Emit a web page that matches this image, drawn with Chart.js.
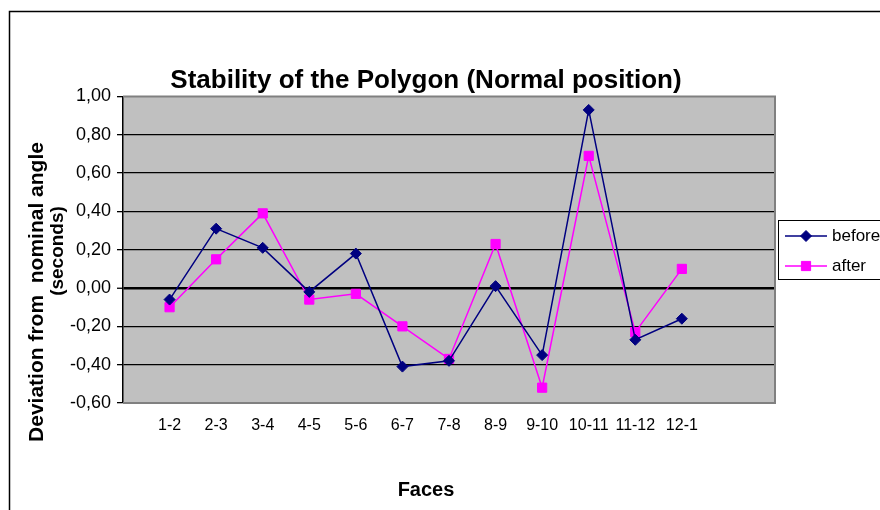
<!DOCTYPE html>
<html><head><meta charset="utf-8">
<script src="https://cdn.jsdelivr.net/npm/chart.js@4/dist/chart.umd.min.js"></script>
<style>html,body{margin:0;padding:0;background:#fff;} canvas{display:block;}</style>
</head><body>
<canvas id="c" width="880" height="510"></canvas>
<script>
const chartTitle = 'Stability of the Polygon (Normal position)';
const xTitle = 'Faces';
const yTitleLines = ['Deviation from  nominal angle', '(seconds)'];
const categories = ['1-2','2-3','3-4','4-5','5-6','6-7','7-8','8-9','9-10','10-11','11-12','12-1'];
const seriesNames = ['before', 'after'];
const beforeValues = [-0.06, 0.31, 0.21, -0.02, 0.18, -0.41, -0.38, 0.01, -0.35, 0.93, -0.27, -0.16];
const afterValues  = [-0.10, 0.15, 0.39, -0.06, -0.03, -0.20, -0.37, 0.23, -0.52, 0.69, -0.23, 0.10];
const yTickValues = [-0.6, -0.4, -0.2, 0, 0.2, 0.4, 0.6, 0.8, 1.0];

const FONT = '"Liberation Sans", Arial, sans-serif';
const toPoints = vals => vals.map((v, i) => ({x: i + 1, y: v}));
const fmt = v => (Math.abs(v) < 1e-9 ? 0 : v).toFixed(2).replace('.', ',');

const decor = {
  id: 'decor',
  beforeDraw(chart) {
    const {ctx, chartArea: a} = chart;
    ctx.save();
    ctx.fillStyle = '#fff';
    ctx.fillRect(0, 0, chart.width, chart.height);
    ctx.strokeStyle = '#000'; ctx.lineWidth = 1.5;
    ctx.strokeRect(9.5, 11.5, 900, 600);
    ctx.fillStyle = '#C0C0C0';
    ctx.fillRect(a.left, a.top, a.right - a.left, a.bottom - a.top);
    ctx.restore();
  },
  beforeDatasetsDraw(chart) {
    const {ctx, chartArea: a} = chart;
    ctx.save();
    ctx.strokeStyle = '#808080'; ctx.lineWidth = 2;
    ctx.beginPath();
    ctx.moveTo(a.left, a.top); ctx.lineTo(a.right, a.top);
    ctx.lineTo(a.right, a.bottom); ctx.lineTo(a.left, a.bottom);
    ctx.stroke();
    ctx.restore();
  },
  afterDraw(chart) {
    const {ctx} = chart;
    ctx.save();
    ctx.fillStyle = '#000';
    ctx.font = 'bold 26px ' + FONT;
    ctx.textAlign = 'center'; ctx.textBaseline = 'alphabetic';
    ctx.fillText(chartTitle, 426, 88);
    ctx.font = 'bold 20px ' + FONT;
    ctx.fillText(xTitle, 426, 496);
    ctx.textBaseline = 'middle';
    const yPos = [[37, 292, 21], [58, 251, 19]];
    yTitleLines.forEach((t, i) => {
      ctx.save();
      ctx.font = 'bold ' + yPos[i][2] + 'px ' + FONT;
      ctx.translate(yPos[i][0], yPos[i][1]);
      ctx.rotate(-Math.PI / 2);
      ctx.fillText(t, 0, 0);
      ctx.restore();
    });
    ctx.strokeStyle = '#000'; ctx.lineWidth = 1;
    ctx.strokeRect(778.5, 220.5, 130, 59);
    chart.data.datasets.forEach((ds, i) => {
      const y = 236 + i * 30;
      ctx.strokeStyle = ds.borderColor; ctx.lineWidth = ds.borderWidth;
      ctx.beginPath(); ctx.moveTo(785, y); ctx.lineTo(827, y); ctx.stroke();
      ctx.fillStyle = ds.pointBackgroundColor; ctx.strokeStyle = ds.pointBorderColor; ctx.lineWidth = 1;
      Chart.helpers.drawPoint(ctx, {pointStyle: ds.pointStyle, radius: ds.pointRadius, borderWidth: 1, rotation: 0}, 806, y);
      ctx.fillStyle = '#000';
      ctx.font = '17px ' + FONT;
      ctx.textAlign = 'left'; ctx.textBaseline = 'middle';
      ctx.fillText(ds.label, 832, y);
    });
    ctx.restore();
  }
};

new Chart(document.getElementById('c'), {
  type: 'line',
  data: {
    datasets: [
      {label: seriesNames[0], data: toPoints(beforeValues), borderColor: '#000080', backgroundColor: '#000080',
       pointBackgroundColor: '#000080', pointBorderColor: '#000080', borderWidth: 1.5,
       pointStyle: 'rectRot', pointRadius: 5.5, pointBorderWidth: 1, tension: 0, fill: false},
      {label: seriesNames[1], data: toPoints(afterValues), borderColor: '#FF00FF', backgroundColor: '#FF00FF',
       pointBackgroundColor: '#FF00FF', pointBorderColor: '#FF00FF', borderWidth: 1.5,
       pointStyle: 'rect', pointRadius: 6.5, pointBorderWidth: 1, tension: 0, fill: false}
    ]
  },
  options: {
    responsive: false, animation: false, devicePixelRatio: 1,
    layout: {padding: {left: 10, top: 96.5, right: 105, bottom: 0}},
    plugins: {legend: {display: false}, title: {display: false}, tooltip: {enabled: false}},
    scales: {
      x: {
        type: 'linear', min: 0, max: categories.length + 2,
        afterBuildTicks: s => { s.ticks = categories.map((_, i) => ({value: i + 1})); },
        afterFit: s => { s.height = 107; },
        grid: {display: false, drawTicks: false},
        border: {display: false},
        ticks: {color: '#000', font: {family: FONT, size: 16}, padding: 13, maxRotation: 0, autoSkip: false,
                callback: v => categories[v - 1] ?? ''}
      },
      y: {
        min: yTickValues[0], max: yTickValues[yTickValues.length - 1],
        afterBuildTicks: s => { s.ticks = yTickValues.map(v => ({value: v})); },
        afterFit: s => { s.width = 113; },
        border: {display: true, color: '#000', width: 1.5},
        grid: {
          color: c => {
            const v = c.tick ? c.tick.value : 0;
            if (Math.abs(v - yTickValues[0]) < 1e-9 || Math.abs(v - yTickValues[yTickValues.length - 1]) < 1e-9) return 'rgba(0,0,0,0)';
            return '#000';
          },
          lineWidth: c => (c.tick && Math.abs(c.tick.value) < 1e-9 ? 2.5 : 1.3),
          tickColor: '#000', tickWidth: 1.3, tickLength: 6, drawTicks: true
        },
        ticks: {color: '#000', font: {family: FONT, size: 18}, padding: 6, callback: v => fmt(v)}
      }
    }
  },
  plugins: [decor]
});
</script>
</body></html>
